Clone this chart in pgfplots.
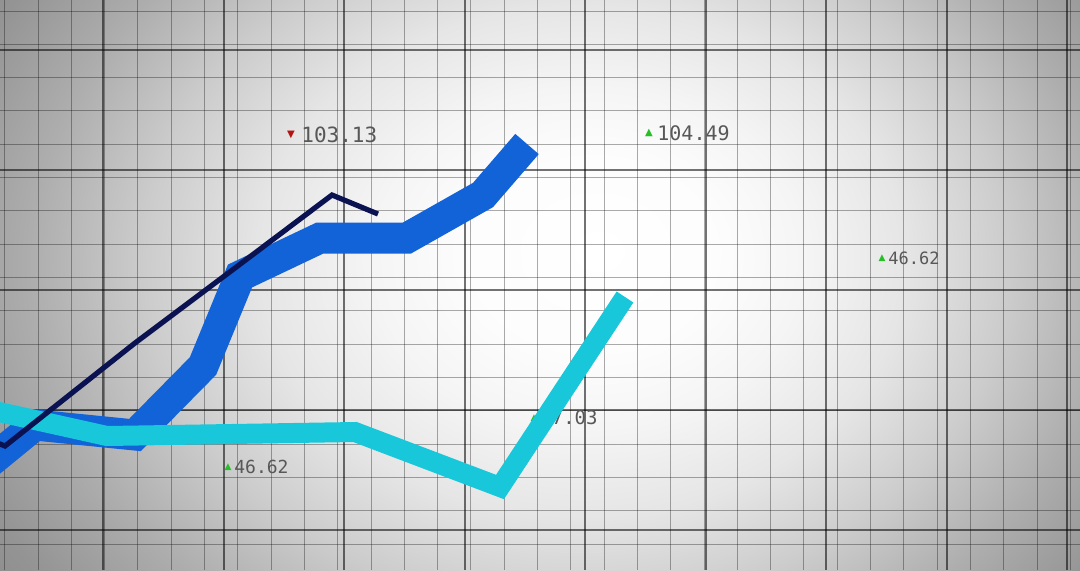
\documentclass[border=0pt]{standalone}
\usepackage{pgfplots}
\pgfplotsset{compat=1.18}
\usepackage{fontspec}
\newfontfamily\digitfont{DejaVu Sans Mono}
\newfontfamily\symbolfont{DejaVu Sans}

\definecolor{lineblue}{RGB}{18,98,216}
\definecolor{linenavy}{RGB}{10,18,82}
\definecolor{linecyan}{RGB}{24,200,218}
\definecolor{labelgray}{RGB}{88,88,88}
\definecolor{downred}{RGB}{180,20,20}
\definecolor{upgreen}{RGB}{40,190,40}

% tikz maps the middle 50bp square of a shading onto the path
\pgfdeclareradialshading{backdrop}{\pgfpoint{2.8bp}{2bp}}{%
  color(0bp)=(white); color(6bp)=(white!99!black); color(10bp)=(white!96!black);
  color(15bp)=(white!90!black); color(20bp)=(white!80!black); color(25bp)=(white!68!black);
  color(30bp)=(white!58!black); color(40bp)=(white!46!black); color(50bp)=(white!40!black)}

% pixel coordinates, y measured from the top
\begin{document}
\begin{tikzpicture}
\begin{axis}[
    set layers,
    width=540pt, height=285pt, scale only axis,
    xmin=0, xmax=1080, ymin=0, ymax=570, y dir=reverse,
    axis line style={draw=none},
    major tick length=0pt, minor tick length=0pt,
    xtick={103,223.5,...,1070}, ytick={50,170,...,560},
    xticklabels={}, yticklabels={},
    extra x ticks={4.7,38,...,1080}, extra y ticks={11,44.33,...,560},
    extra x tick labels={}, extra y tick labels={},
    grid=major,
    major grid style={black, opacity=0.55, line width=1pt},
    extra tick style={grid=major, major grid style={black, opacity=0.33, line width=0.5pt}},
]
% vignette backdrop, taller than the axis so it fades mostly sideways
\begin{pgfonlayer}{axis background}
\path[shade, shading=backdrop] (rel axis cs:0,-0.25) rectangle (rel axis cs:1,1.25);
\end{pgfonlayer}

% price labels
\node[text=downred, inner sep=0pt] at (axis cs:291,135) {\symbolfont\fontsize{5}{5}\selectfont ▼};
\node[text=labelgray, anchor=west, inner sep=0pt] at (axis cs:301,135) {\digitfont\fontsize{10.5}{12}\selectfont 103.13};
\node[text=upgreen, inner sep=0pt] at (axis cs:649,133) {\symbolfont\fontsize{5}{5}\selectfont ▲};
\node[text=labelgray, anchor=west, inner sep=0pt] at (axis cs:657,133) {\digitfont\fontsize{10}{12}\selectfont 104.49};
\node[text=upgreen, inner sep=0pt] at (axis cs:882,258) {\symbolfont\fontsize{4.5}{5}\selectfont ▲};
\node[text=labelgray, anchor=west, inner sep=0pt] at (axis cs:888,258) {\digitfont\fontsize{8.5}{10}\selectfont 46.62};
\node[text=upgreen, inner sep=0pt] at (axis cs:228,467) {\symbolfont\fontsize{4.5}{5}\selectfont ▲};
\node[text=labelgray, anchor=west, inner sep=0pt] at (axis cs:234,467) {\digitfont\fontsize{9}{10}\selectfont 46.62};
\node[text=upgreen, inner sep=0pt] at (axis cs:534,418) {\symbolfont\fontsize{4.5}{5}\selectfont ▲};
\node[text=labelgray, anchor=west, inner sep=0pt] at (axis cs:540,418) {\digitfont\fontsize{9.5}{10}\selectfont 57.03};

% series
\addplot[lineblue, line width=15.5pt, line join=miter, miter limit=5] coordinates {
    (-20,470) (35,425) (135,435) (203,366) (240,276) (320,238) (407,238) (483,195) (527,144)
};
\addplot[linecyan, line width=10pt, line join=miter, miter limit=5] coordinates {
    (-10,410) (107,436) (355,432) (500,487) (625,297)
};
\addplot[linenavy, line width=2.6pt, line join=miter, miter limit=5] coordinates {
    (-10,440) (5,446) (135,343) (235,268) (332,195) (378,214)
};
\end{axis}
\pgfresetboundingbox
\useasboundingbox (current axis.south west) rectangle (current axis.north east);
\end{tikzpicture}
\end{document}
